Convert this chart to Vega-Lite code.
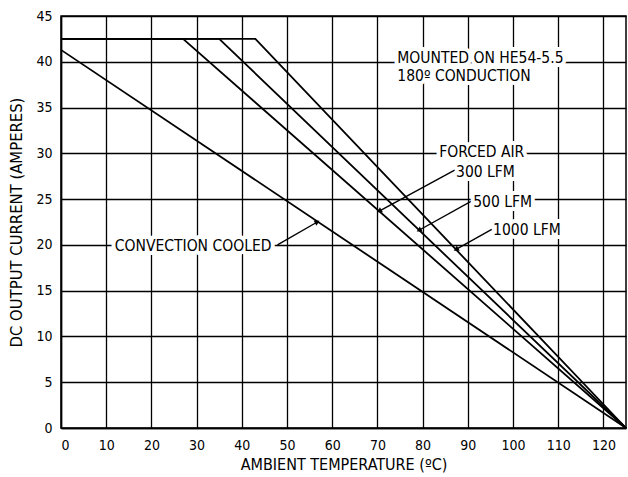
{
  "$schema": "https://vega.github.io/schema/vega-lite/v6.json",
  "width": 565,
  "height": 412,
  "autosize": {"type": "none"},
  "padding": {"left": 61, "top": 16, "right": 2, "bottom": 49},
  "background": "white",
  "config": {
    "font": "DejaVu Sans Condensed, Liberation Sans, sans-serif",
    "view": {"stroke": "black", "strokeWidth": 1.5},
    "axis": {
      "grid": true,
      "gridColor": "black",
      "gridWidth": 1.3,
      "gridOpacity": 1,
      "domainColor": "black",
      "domainWidth": 1.5,
      "ticks": false,
      "labelFont": "DejaVu Sans Condensed, Liberation Sans, sans-serif",
      "labelFontSize": 14,
      "labelColor": "black",
      "titleFont": "DejaVu Sans Condensed, Liberation Sans, sans-serif",
      "titleFontWeight": "normal",
      "titleColor": "black"
    }
  },
  "datasets": {
    "curves": [
      {"series": "Convection cooled", "x": 0, "y": 41.3},
      {"series": "Convection cooled", "x": 125, "y": 0},
      {"series": "300 LFM", "x": 0, "y": 42.5},
      {"series": "300 LFM", "x": 27, "y": 42.5},
      {"series": "300 LFM", "x": 125, "y": 0},
      {"series": "500 LFM", "x": 0, "y": 42.5},
      {"series": "500 LFM", "x": 35, "y": 42.5},
      {"series": "500 LFM", "x": 125, "y": 0},
      {"series": "1000 LFM", "x": 0, "y": 42.5},
      {"series": "1000 LFM", "x": 43, "y": 42.5},
      {"series": "1000 LFM", "x": 125, "y": 0}
    ],
    "labels": [
      {"text": "MOUNTED ON HE54-5.5", "x": 74.4, "y": 40.4},
      {"text": "180º CONDUCTION", "x": 74.4, "y": 38.5},
      {"text": "FORCED AIR", "x": 83.7, "y": 30.2},
      {"text": "300 LFM", "x": 87.4, "y": 28.0},
      {"text": "500 LFM", "x": 91.2, "y": 24.7},
      {"text": "1000 LFM", "x": 95.6, "y": 21.6},
      {"text": "CONVECTION COOLED", "x": 11.9, "y": 19.9}
    ],
    "leaders": [
      {"id": "conv", "order": 0, "x": 47.9, "y": 20.0},
      {"id": "conv", "order": 1, "x": 56.7, "y": 22.5},
      {"id": "300", "order": 0, "x": 87.2, "y": 28.2},
      {"id": "300", "order": 1, "x": 70.4, "y": 23.7},
      {"id": "500", "order": 0, "x": 90.9, "y": 24.8},
      {"id": "500", "order": 1, "x": 79.2, "y": 21.6},
      {"id": "1000", "order": 0, "x": 95.3, "y": 21.7},
      {"id": "1000", "order": 1, "x": 87.4, "y": 19.5}
    ]
  },
  "encoding": {
    "x": {
      "field": "x", "type": "quantitative",
      "scale": {"domain": [0, 125], "nice": false},
      "axis": {"values": [0,10,20,30,40,50,60,70,80,90,100,110,120], "title": "AMBIENT TEMPERATURE (ºC)", "titleFontSize": 16, "labelPadding": 10, "titlePadding": 4}
    },
    "y": {
      "field": "y", "type": "quantitative",
      "scale": {"domain": [0, 45], "nice": false},
      "axis": {"values": [0,5,10,15,20,25,30,35,40,45], "title": "DC OUTPUT CURRENT (AMPERES)", "titleFontSize": 16.5, "labelPadding": 9, "titlePadding": 11}
    }
  },
  "layer": [
    {
      "data": {"name": "curves"},
      "mark": {"type": "line", "color": "black", "strokeWidth": 1.8},
      "encoding": {"detail": {"field": "series"}}
    },
    {
      "data": {"name": "leaders"},
      "mark": {"type": "line", "color": "black", "strokeWidth": 1.4},
      "encoding": {"detail": {"field": "id"}, "order": {"field": "order"}}
    },
    {
      "data": {"name": "leaders"},
      "transform": [{"filter": "datum.order == 1 && datum.id == 'conv'"}],
      "mark": {"type": "point", "shape": "triangle-up", "filled": true, "color": "black", "size": 35, "angle": 62, "opacity": 1}
    },
    {
      "data": {"name": "leaders"},
      "transform": [{"filter": "datum.order == 1 && datum.id != 'conv'"}],
      "mark": {"type": "point", "shape": "triangle-up", "filled": true, "color": "black", "size": 35, "angle": 240, "opacity": 1}
    },
    {
      "data": {"name": "labels"},
      "mark": {"type": "text", "align": "left", "baseline": "middle", "font": "DejaVu Sans Condensed, Liberation Sans, sans-serif", "fontSize": 15.5, "stroke": "white", "strokeWidth": 8, "strokeJoin": "round", "fill": "white"},
      "encoding": {"text": {"field": "text"}}
    },
    {
      "data": {"name": "labels"},
      "mark": {"type": "text", "align": "left", "baseline": "middle", "font": "DejaVu Sans Condensed, Liberation Sans, sans-serif", "fontSize": 15.5, "color": "black"},
      "encoding": {"text": {"field": "text"}}
    }
  ]
}
